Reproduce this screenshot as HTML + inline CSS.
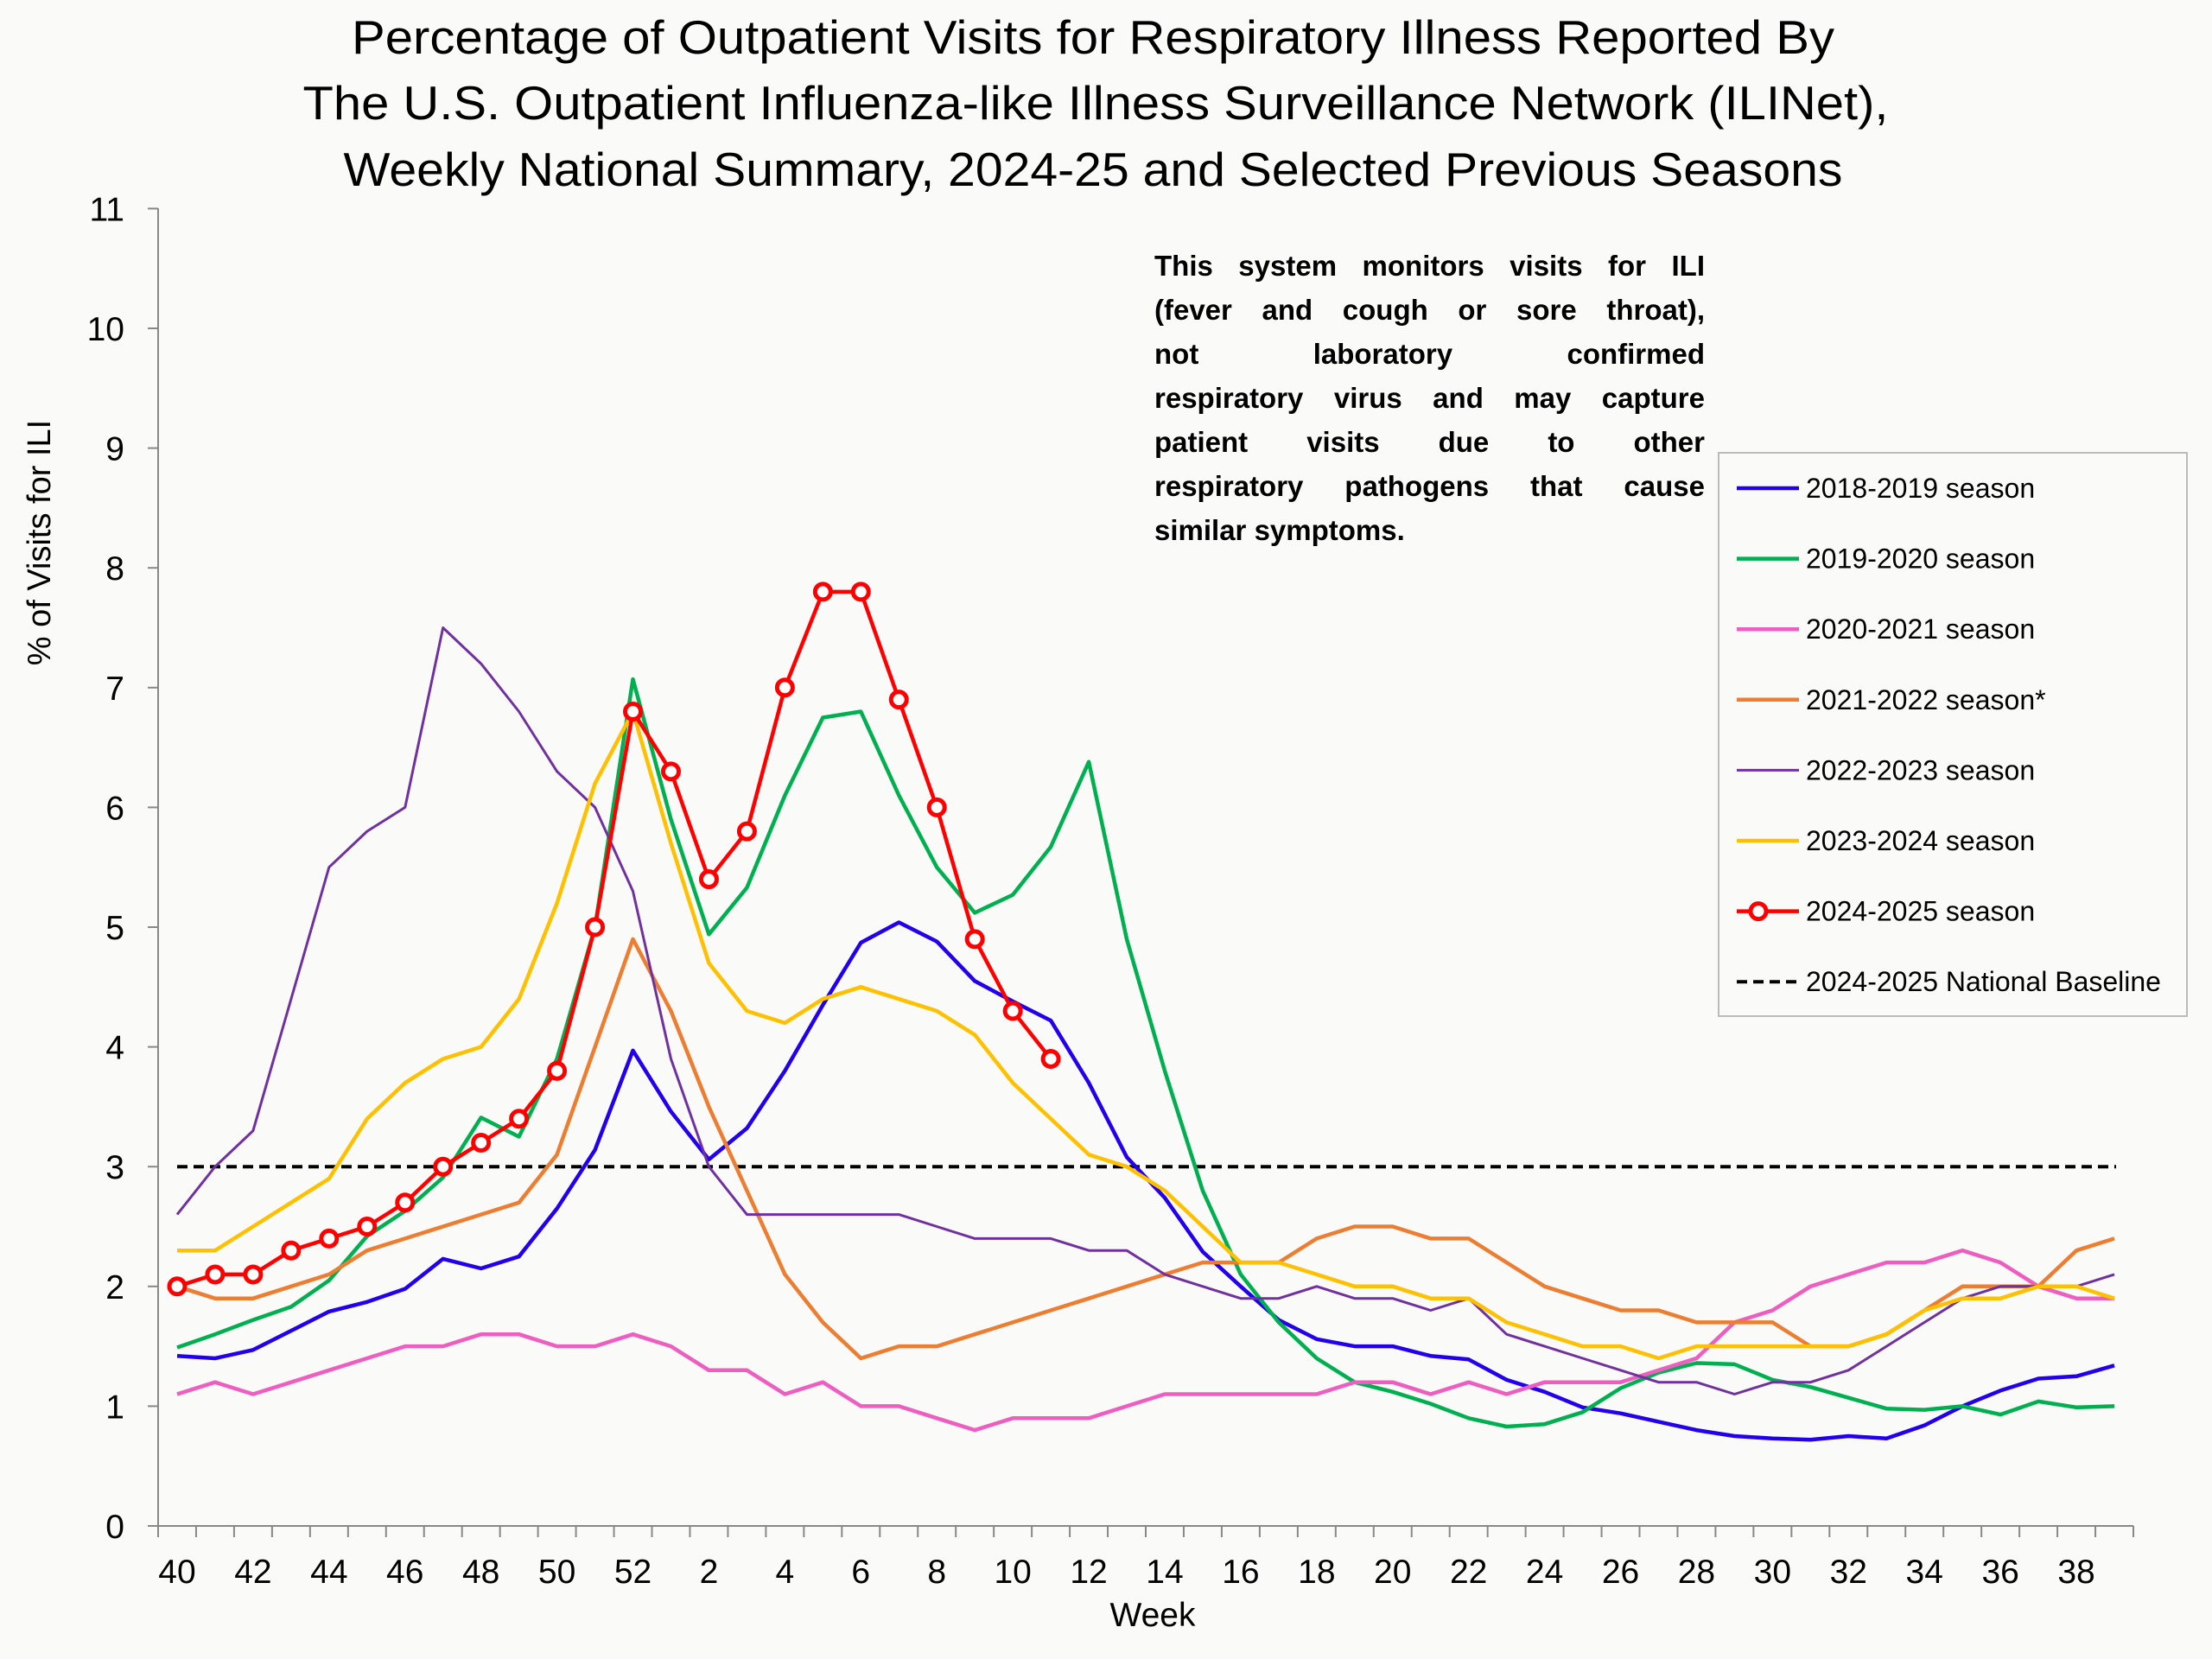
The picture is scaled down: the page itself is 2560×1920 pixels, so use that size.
<!DOCTYPE html>
<html><head><meta charset="utf-8"><style>
html,body{margin:0;padding:0;background:#fafaf8;}
svg{display:block;font-family:"Liberation Sans",sans-serif;}
#note{position:absolute;left:1336px;top:282px;width:637px;font-family:"Liberation Sans",sans-serif;font-weight:bold;font-size:33px;line-height:51px;color:#000;}
#note div{text-align:justify;text-align-last:justify;white-space:nowrap;}
#note div.l{text-align-last:left;}
</style></head><body>
<svg id="c" width="2560" height="1920" viewBox="0 0 2560 1920" xmlns="http://www.w3.org/2000/svg">
<rect width="2560" height="1920" fill="#fafaf8"/>
<g font-size="55" text-anchor="middle" fill="#000">
<text x="1265" y="62" textLength="1716" lengthAdjust="spacingAndGlyphs">Percentage of Outpatient Visits for Respiratory Illness Reported By</text>
<text x="1268" y="138" textLength="1835" lengthAdjust="spacingAndGlyphs">The U.S. Outpatient Influenza-like Illness Surveillance Network (ILINet),</text>
<text x="1265" y="215" textLength="1735" lengthAdjust="spacingAndGlyphs">Weekly National Summary, 2024-25 and Selected Previous Seasons</text>
</g>
<g id="axes"></g>
<g id="series"></g>
<g id="legend"></g>
</svg>
<div id="note">
<div>This system monitors visits for ILI</div>
<div>(fever and cough or sore throat),</div>
<div>not laboratory confirmed</div>
<div>respiratory virus and may capture</div>
<div>patient visits due to other</div>
<div>respiratory pathogens that cause</div>
<div class="l">similar symptoms.</div>
</div>
<script>
const NS="http://www.w3.org/2000/svg";
function el(p,t,a,txt){const e=document.createElementNS(NS,t);for(const k in a)e.setAttribute(k,a[k]);if(txt!==undefined)e.textContent=txt;p.appendChild(e);return e;}
const X0=183,X1=2469,Y0=1766,U=138.6,W=(X1-X0)/52;
const cx=i=>X0+W*(i+0.5), cy=v=>Y0-v*U;
const ax=document.getElementById('axes');
el(ax,'line',{x1:X0,y1:241,x2:X0,y2:Y0,stroke:'#888','stroke-width':2});
el(ax,'line',{x1:X0-12,y1:Y0,x2:X1,y2:Y0,stroke:'#888','stroke-width':2});
for(let v=0;v<=11;v++){const y=cy(v);el(ax,'line',{x1:X0-12,y1:y,x2:X0,y2:y,stroke:'#888','stroke-width':2});
el(ax,'text',{x:144,y:y+14,'font-size':39,'text-anchor':'end'},String(v));}
for(let i=0;i<=52;i++){const x=X0+W*i;el(ax,'line',{x1:x,y1:Y0,x2:x,y2:Y0+13,stroke:'#888','stroke-width':2});}
const weeks=[];for(let w=40;w<=52;w++)weeks.push(w);for(let w=1;w<=39;w++)weeks.push(w);
weeks.forEach((w,i)=>{if(w%2==0)el(ax,'text',{x:cx(i),y:1832,'font-size':39,'text-anchor':'middle'},String(w));});
el(ax,'text',{x:1334,y:1882,'font-size':39,'text-anchor':'middle'},'Week');
el(ax,'text',{x:0,y:0,'font-size':38,'text-anchor':'middle',transform:'translate(58,628) rotate(-90)'},'% of Visits for ILI');
el(ax,'line',{x1:cx(0),y1:cy(3),x2:cx(51)+2,y2:cy(3),stroke:'#000','stroke-width':4,'stroke-dasharray':'12,7'});
const S=[
{c:'#2200ee',w:4.5,d:[1.42,1.40,1.47,1.63,1.79,1.87,1.98,2.23,2.15,2.25,2.65,3.14,3.97,3.46,3.06,3.32,3.80,4.35,4.87,5.04,4.88,4.55,4.38,4.22,3.70,3.08,2.74,2.29,2.0,1.72,1.56,1.50,1.50,1.42,1.39,1.22,1.12,0.99,0.94,0.87,0.80,0.75,0.73,0.72,0.75,0.73,0.84,1.0,1.13,1.23,1.25,1.34],l:'2018-2019 season'},
{c:'#00b050',w:4.5,d:[1.49,1.60,1.72,1.83,2.05,2.42,2.63,2.91,3.41,3.25,3.90,5.0,7.07,5.9,4.94,5.33,6.1,6.75,6.8,6.1,5.5,5.12,5.27,5.67,6.38,4.9,3.8,2.8,2.1,1.7,1.4,1.2,1.12,1.02,0.9,0.83,0.85,0.95,1.15,1.28,1.36,1.35,1.22,1.16,1.07,0.98,0.97,1.0,0.93,1.04,0.99,1.0],l:'2019-2020 season'},
{c:'#ee5ec0',w:4.5,d:[1.1,1.2,1.1,1.2,1.3,1.4,1.5,1.5,1.6,1.6,1.5,1.5,1.6,1.5,1.3,1.3,1.1,1.2,1.0,1.0,0.9,0.8,0.9,0.9,0.9,1.0,1.1,1.1,1.1,1.1,1.1,1.2,1.2,1.1,1.2,1.1,1.2,1.2,1.2,1.3,1.4,1.7,1.8,2.0,2.1,2.2,2.2,2.3,2.2,2.0,1.9,1.9],l:'2020-2021 season'},
{c:'#ed7d31',w:4.5,d:[2.0,1.9,1.9,2.0,2.1,2.3,2.4,2.5,2.6,2.7,3.1,4.0,4.9,4.3,3.5,2.8,2.1,1.7,1.4,1.5,1.5,1.6,1.7,1.8,1.9,2.0,2.1,2.2,2.2,2.2,2.4,2.5,2.5,2.4,2.4,2.2,2.0,1.9,1.8,1.8,1.7,1.7,1.7,1.5,1.5,1.6,1.8,2.0,2.0,2.0,2.3,2.4],l:'2021-2022 season*'},
{c:'#7030a0',w:3,d:[2.6,3.0,3.3,4.4,5.5,5.8,6.0,7.5,7.2,6.8,6.3,6.0,5.3,3.9,3.0,2.6,2.6,2.6,2.6,2.6,2.5,2.4,2.4,2.4,2.3,2.3,2.1,2.0,1.9,1.9,2.0,1.9,1.9,1.8,1.9,1.6,1.5,1.4,1.3,1.2,1.2,1.1,1.2,1.2,1.3,1.5,1.7,1.9,2.0,2.0,2.0,2.1],l:'2022-2023 season'},
{c:'#ffc000',w:4.5,d:[2.3,2.3,2.5,2.7,2.9,3.4,3.7,3.9,4.0,4.4,5.2,6.2,6.8,5.7,4.7,4.3,4.2,4.4,4.5,4.4,4.3,4.1,3.7,3.4,3.1,3.0,2.8,2.5,2.2,2.2,2.1,2.0,2.0,1.9,1.9,1.7,1.6,1.5,1.5,1.4,1.5,1.5,1.5,1.5,1.5,1.6,1.8,1.9,1.9,2.0,2.0,1.9],l:'2023-2024 season'},
{c:'#ff0000',w:4.5,m:1,d:[2.0,2.1,2.1,2.3,2.4,2.5,2.7,3.0,3.2,3.4,3.8,5.0,6.8,6.3,5.4,5.8,7.0,7.8,7.8,6.9,6.0,4.9,4.3,3.9],l:'2024-2025 season'}
];
const sg=document.getElementById('series');
S.forEach(s=>{
  el(sg,'polyline',{points:s.d.map((v,i)=>cx(i).toFixed(1)+','+cy(v).toFixed(1)).join(' '),fill:'none',stroke:s.c,'stroke-width':s.w,'stroke-linejoin':'round'});
  if(s.m)s.d.forEach((v,i)=>el(sg,'circle',{cx:cx(i),cy:cy(v),r:9,fill:'#fff',stroke:s.c,'stroke-width':5}));
});
const lg=document.getElementById('legend');
el(lg,'rect',{x:1989,y:524,width:542,height:652,fill:'#fafaf8',stroke:'#bbb','stroke-width':2});
const items=S.map(s=>({c:s.c,w:s.w,m:s.m,l:s.l}));items.push({c:'#000',w:4,dash:1,l:'2024-2025 National Baseline'});
items.forEach((it,k)=>{const y=565+k*81.6;
  el(lg,'line',{x1:2010,y1:y,x2:2082,y2:y,stroke:it.c,'stroke-width':it.w,'stroke-dasharray':it.dash?'12,7':'none'});
  if(it.m)el(lg,'circle',{cx:2035,cy:y,r:9,fill:'#fff',stroke:it.c,'stroke-width':5});
  el(lg,'text',{x:2090,y:y+11,'font-size':32},it.l);
});
</script>
</body></html>
